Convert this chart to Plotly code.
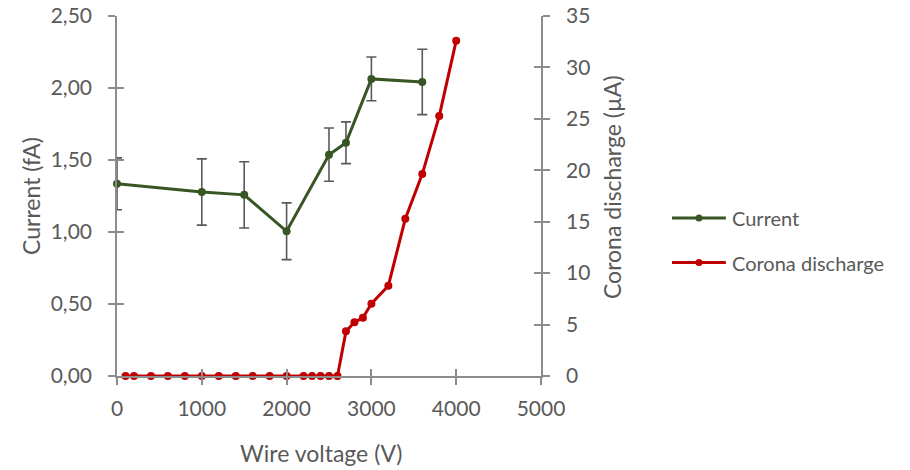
import plotly.graph_objects as go

# Current measurement (left axis, fA) with error bars
current_voltage = [0, 1000, 1500, 2000, 2500, 2700, 3000, 3600]
current_fa = [1.335, 1.278, 1.258, 1.005, 1.537, 1.620, 2.063, 2.042]
current_err = [0.18, 0.23, 0.23, 0.197, 0.185, 0.145, 0.152, 0.227]

# Corona discharge (right axis, µA)
corona_voltage = [100, 200, 400, 600, 800, 1000, 1200, 1400, 1600, 1800, 2000,
                  2200, 2300, 2400, 2500, 2600, 2700, 2800, 2900, 3000, 3200,
                  3400, 3600, 3800, 4000]
corona_ua = [0, 0, 0, 0, 0, 0, 0, 0, 0, 0, 0,
             0, 0, 0, 0, 0, 4.34, 5.22, 5.67, 7.03, 8.78,
             15.3, 19.63, 25.27, 32.6]

x_ticks = [0, 1000, 2000, 3000, 4000, 5000]
left_ticks = [0, 0.5, 1.0, 1.5, 2.0, 2.5]
right_ticks = [0, 5, 10, 15, 20, 25, 30, 35]

GREEN = "#375623"
RED = "#C00000"
AXIS = "#8C8C8C"
TEXT = "#595959"
FONT = "Lato"

fig = go.Figure()

fig.add_trace(go.Scatter(
    x=current_voltage, y=current_fa, name="Current",
    mode="lines+markers",
    line=dict(color=GREEN, width=3),
    marker=dict(color=GREEN, size=8),
    error_y=dict(type="data", array=current_err, visible=True,
                 color="#595959", thickness=1.6, width=5),
    cliponaxis=False, xaxis="x", yaxis="y",
))

fig.add_trace(go.Scatter(
    x=corona_voltage, y=corona_ua, name="Corona discharge",
    mode="lines+markers",
    line=dict(color=RED, width=3),
    marker=dict(color=RED, size=8),
    cliponaxis=False, xaxis="x", yaxis="y2",
))

# empty traces so the companion axes (inner halves of the cross ticks) render
for xa, ya in (("x2", "y3"), ("x2", "y4")):
    fig.add_trace(go.Scatter(x=[], y=[], xaxis=xa, yaxis=ya,
                             showlegend=False, hoverinfo="skip"))

tick_font = dict(family=FONT, size=21, color=TEXT)

common_x = dict(range=[0, 5000], tickvals=x_ticks, showgrid=False, zeroline=False,
                ticklen=7, tickwidth=1.6, tickcolor=AXIS, automargin=False)
common_y = dict(ticklen=7, tickwidth=1.6, tickcolor=AXIS, showgrid=False,
                zeroline=False, automargin=False)
fig.update_layout(
    xaxis=dict(**common_x, ticks="outside", showline=True, linecolor=AXIS,
               linewidth=1.6, tickfont=tick_font, ticklabelstandoff=6,
               anchor="y"),
    xaxis2=dict(**common_x, ticks="inside", showline=False,
                showticklabels=False, overlaying="x", anchor="y3"),
    yaxis=dict(**common_y, range=[0, 2.5], tickvals=left_ticks,
               tickformat=".2f", ticks="outside",
               showline=True, linecolor=AXIS, linewidth=1.6,
               tickfont=tick_font, ticklabelstandoff=12, anchor="x"),
    yaxis2=dict(**common_y, range=[0, 35], tickvals=right_ticks,
                ticks="outside", showline=True, linecolor=AXIS,
                linewidth=1.6, tickfont=tick_font, ticklabelstandoff=12,
                side="right", overlaying="y", anchor="x"),
    yaxis3=dict(**common_y, range=[0, 2.5], tickvals=left_ticks,
                ticks="inside", showline=False, showticklabels=False,
                overlaying="y", side="left", anchor="x2"),
    yaxis4=dict(**common_y, range=[0, 35], tickvals=right_ticks,
                ticks="inside", showline=False, showticklabels=False,
                overlaying="y", side="right", anchor="x2"),
    separators=",.",
    width=910, height=470,
    margin=dict(l=117, r=369, t=16, b=94),
    paper_bgcolor="white", plot_bgcolor="white",
    showlegend=False,
    font=dict(family=FONT, color=TEXT),
)

# axis titles
title_font = dict(family=FONT, size=23, color=TEXT)
fig.add_annotation(text="Current (fA)", xref="paper", yref="paper",
                   x=-0.203, y=0.5, textangle=-90, showarrow=False,
                   font=title_font, xanchor="center", yanchor="middle")
fig.add_annotation(text="Corona discharge (µA)", xref="paper", yref="paper",
                   x=1.1675, y=0.525, textangle=-90, showarrow=False,
                   font=title_font, xanchor="center", yanchor="middle")
fig.add_annotation(text="Wire voltage (V)", xref="paper", yref="paper",
                   x=0.482, y=-0.214, showarrow=False,
                   font=title_font, xanchor="center", yanchor="middle")

# legend drawn to the right of the plot
legend_items = [("Current", GREEN, 0.439), ("Corona discharge", RED, 0.315)]
for label, color, ly in legend_items:
    fig.add_shape(type="line", xref="paper", yref="paper",
                  x0=1.309, x1=1.436, y0=ly, y1=ly,
                  line=dict(color=color, width=3))
    fig.add_shape(type="circle", xref="paper", yref="paper",
                  xsizemode="pixel", ysizemode="pixel",
                  xanchor=1.3726, yanchor=ly,
                  x0=-3.5, x1=3.5, y0=-3.5, y1=3.5,
                  fillcolor=color, line=dict(color=color, width=0))
    fig.add_annotation(text=label, xref="paper", yref="paper",
                       x=1.446, y=ly, showarrow=False, xanchor="left",
                       yanchor="middle",
                       font=dict(family=FONT, size=20, color=TEXT))

fig.write_html("out.html")
